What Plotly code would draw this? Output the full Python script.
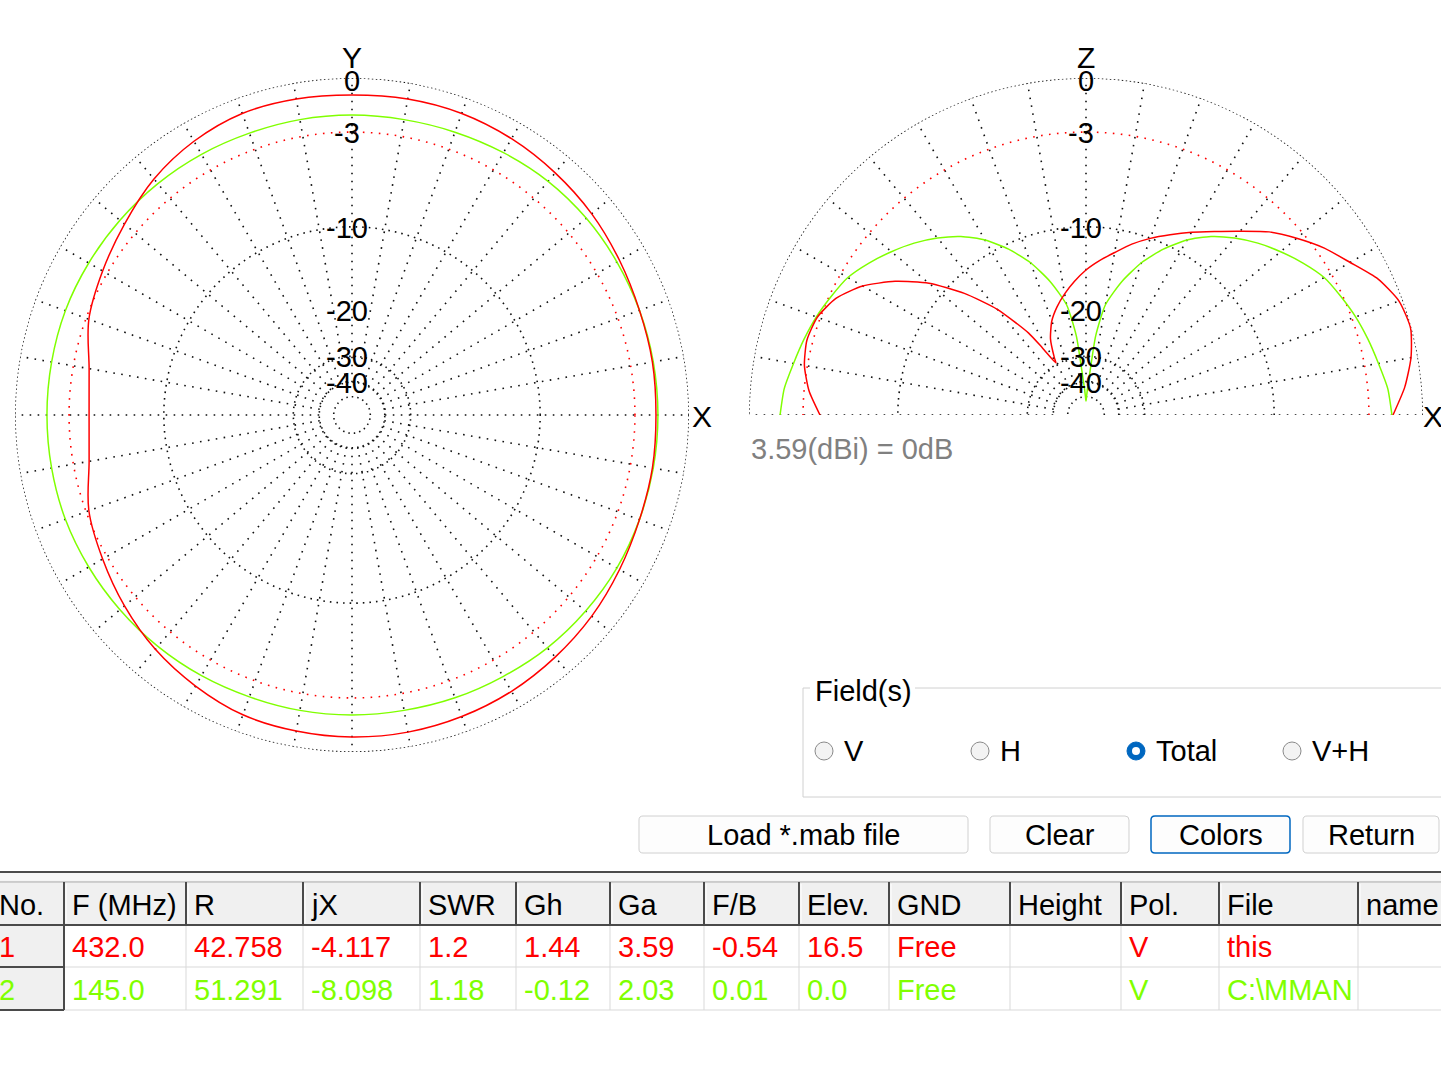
import plotly.graph_objects as go

W, H = 1441, 1065
RED = "#ff0000"
GREEN = "#80ff00"
FONT = "Liberation Sans, Arial, sans-serif"

# horizontal (XY) pattern, dB relative to 3.59 dBi, angle from +X counter-clockwise
az_angles = list(range(0, 360, 10))
az_432 = [-1.77, -1.71, -1.66, -1.49, -1.27, -1.10, -0.94, -0.84, -0.84, -0.89,
          -0.84, -0.84, -1.10, -1.54, -2.17, -2.70, -3.18, -4.00, -4.26, -4.00,
          -3.18, -2.70, -2.17, -1.66, -1.27, -0.94, -0.84, -0.78, -0.78, -0.84,
          -0.94, -1.10, -1.27, -1.49, -1.66, -1.71]
az_145 = [-1.66, -1.66, -1.66, -1.66, -1.66, -1.71, -1.83, -1.94, -2.00, -2.00,
          -2.00, -2.00, -1.94, -1.88, -1.83, -1.77, -1.71, -1.71, -1.71, -1.71,
          -1.71, -1.77, -1.83, -1.88, -1.94, -2.00, -2.00, -2.00, -2.00, -1.94,
          -1.88, -1.77, -1.71, -1.66, -1.66, -1.66]

# vertical (XZ) pattern, elevation angle from +X
el_angles_432 = [0, 5, 10, 15, 20, 25, 30, 35, 40, 45, 50, 55, 60, 65, 70, 75, 80, 85,
                 90, 95, 100, 105, 110, 115, 119, 120, 123, 125, 130, 135, 140, 145,
                 150, 155, 160, 165, 170, 175, 180]
el_432 = [-1.60, -0.89, -0.36, -0.05, -0.20, -0.78, -1.71, -2.52, -3.49, -4.52,
          -5.83, -7.01, -8.04, -9.05, -10.02, -11.06, -12.26, -13.33, -14.47, -15.83,
          -17.30, -18.91, -20.85, -23.84, -28.24, -29.6, -24.7, -20.85, -15.32, -11.54,
          -8.53, -6.33, -4.59, -3.43, -2.82, -2.64, -2.82, -3.30, -4.06]
el_angles_145 = [0, 5, 10, 15, 20, 25, 30, 35, 40, 45, 50, 55, 60, 65, 70, 75, 80, 83,
                 85, 87, 89, 90, 91, 93, 95, 97, 100, 105, 110, 115, 120, 125, 130,
                 135, 140, 145, 150, 155, 160, 165, 170, 175, 180]
el_145 = [-1.66, -1.83, -2.17, -2.46, -2.76, -3.12, -3.49, -4.13, -4.85, -5.61,
          -6.48, -7.48, -8.78, -10.48, -12.57, -15.32, -18.91, -24.7, -36.6, -44.6,
          -52.3, -54.6, -52.3, -44.6, -36.6, -24.7, -18.91, -15.32, -12.57, -10.48,
          -8.78, -7.48, -6.48, -5.61, -4.85, -4.13, -3.49, -3.12, -2.76, -2.46,
          -2.17, -1.83, -1.66]

scale_levels = [0, -3, -10, -20, -30, -40]
scale_labels = ["0", "-3", "-10", "-20", "-30", "-40"]

headers = ["No.", "F (MHz)", "R", "jX", "SWR", "Gh", "Ga", "F/B", "Elev.", "GND",
           "Height", "Pol.", "File", "name"]
row_432 = ["1", "432.0", "42.758", "-4.117", "1.2", "1.44", "3.59", "-0.54", "16.5",
           "Free", "", "V", "this", ""]
row_145 = ["2", "145.0", "51.291", "-8.098", "1.18", "-0.12", "2.03", "0.01", "0.0",
           "Free", "", "V", "C:\\MMAN", ""]

fields = ["V", "H", "Total", "V+H"]
selected_field = "Total"
buttons = ["Load *.mab file", "Clear", "Colors", "Return"]


def to_r(db):
    # MMANA log scale: radius = 0.89 ** (-dB/2)
    return 0.89 ** (-db / 2.0)


def px(x):
    return x / W


def py(y):
    return 1 - y / H


fig = go.Figure()
DOT = "#111"


def grid(subplot, a0, a1):
    full = list(range(a0, a1 + 1))
    # spokes every 10 deg from the -40 ring outwards
    rr, tt = [], []
    for a in range(a0, a1 + 1, 10):
        if a1 - a0 == 360 and a == a1:
            continue
        rr += [to_r(-40), 1, None]
        tt += [a, a, None]
    fig.add_trace(go.Scatterpolar(r=rr, theta=tt, mode="lines", subplot=subplot,
                                  line=dict(color=DOT, width=1.6, dash="1.6px,6.4px"),
                                  cliponaxis=False, hoverinfo="skip", showlegend=False))
    rings = [(0, DOT, "1.5px,2.5px"), (-3, RED, "1.6px,6.4px"), (-10, DOT, "1.6px,5px"),
             (-30, DOT, "1.5px,4px"), (-40, DOT, "1.5px,4px"), (-50, DOT, "1.5px,4px")]
    for lev, col, dash in rings:
        fig.add_trace(go.Scatterpolar(r=[to_r(lev)] * len(full), theta=full, mode="lines",
                                      subplot=subplot,
                                      line=dict(color=col, width=1.6, dash=dash),
                                      cliponaxis=False, hoverinfo="skip", showlegend=False))


grid("polar", 0, 360)
grid("polar2", 0, 180)

for vals, col in [(az_145, GREEN), (az_432, RED)]:
    fig.add_trace(go.Scatterpolar(r=[to_r(v) for v in vals] + [to_r(vals[0])],
                                  theta=az_angles + [360], mode="lines", subplot="polar",
                                  line=dict(color=col, width=1.5, shape="spline", smoothing=1),
                                  cliponaxis=False, hoverinfo="skip", showlegend=False))
for ang, vals, col in [(el_angles_145, el_145, GREEN), (el_angles_432, el_432, RED)]:
    fig.add_trace(go.Scatterpolar(r=[to_r(v) for v in vals], theta=ang, mode="lines",
                                  subplot="polar2",
                                  line=dict(color=col, width=1.5, shape="spline", smoothing=0.6),
                                  cliponaxis=False, hoverinfo="skip", showlegend=False))

polar_common = dict(bgcolor="rgba(0,0,0,0)",
                    radialaxis=dict(range=[0, 1], visible=False),
                    angularaxis=dict(visible=False, rotation=0, direction="counterclockwise"))
R = 337
CL = (352, 415)
CR = (1086, 415)

ann = []
shapes = []


def text(x, y, s, size=29, color="black", anchor="left", **kw):
    ann.append(dict(x=px(x), y=py(y), xref="paper", yref="paper", text=s, showarrow=False,
                    xanchor=anchor, yanchor="middle",
                    font=dict(family=FONT, size=size, color=color), **kw))


# scale labels and axis names
for cx, cy, top in [(CL[0], CL[1], "Y"), (CR[0], CR[1], "Z")]:
    text(cx, 58, top, size=30, anchor="center")
    for lev, lab in zip(scale_levels, scale_labels):
        y = cy - R * to_r(lev) + (3 if lev == 0 else 1)
        text(cx - (5 if lab.startswith("-") else 0), y, lab, anchor="center")
text(702, 417, "X", size=30, anchor="center")
text(1433, 417, "X", size=30, anchor="center")
text(749, 449, row_432[6] + "(dBi) = 0dB", size=29, color="#808080")

# Field(s) group box
gb = "#d0d0d0"
shapes += [
    dict(type="line", x0=px(803), x1=px(810), y0=py(688), y1=py(688), line=dict(color=gb, width=1)),
    dict(type="line", x0=px(915), x1=px(W), y0=py(688), y1=py(688), line=dict(color=gb, width=1)),
    dict(type="line", x0=px(803), x1=px(803), y0=py(688), y1=py(797), line=dict(color=gb, width=1)),
    dict(type="line", x0=px(803), x1=px(W), y0=py(797), y1=py(797), line=dict(color=gb, width=1)),
]
text(813, 691, "Field(s)")
radio_x = [824, 980, 1136, 1292]
for f, x in zip(fields, radio_x):
    if f == selected_field:
        shapes.append(dict(type="circle", x0=px(x - 9), x1=px(x + 9), y0=py(760), y1=py(742),
                           fillcolor="#0067c0", line=dict(color="#0067c0", width=1)))
        shapes.append(dict(type="circle", x0=px(x - 4), x1=px(x + 4), y0=py(755), y1=py(747),
                           fillcolor="white", line=dict(width=0)))
    else:
        shapes.append(dict(type="circle", x0=px(x - 9), x1=px(x + 9), y0=py(760), y1=py(742),
                           fillcolor="#f3f3f3", line=dict(color="#8a8a8a", width=1)))
    text(x + 18, 751, f)

# buttons
btn_x = [(639, 968), (990, 1129), (1151, 1290), (1303, 1439)]


def rrect(x0, y0, x1, y1, r=4):
    P = lambda x, y: f"{px(x):.5f},{py(y):.5f}"
    return (f"M{P(x0 + r, y0)} L{P(x1 - r, y0)} Q{P(x1, y0)} {P(x1, y0 + r)} "
            f"L{P(x1, y1 - r)} Q{P(x1, y1)} {P(x1 - r, y1)} L{P(x0 + r, y1)} "
            f"Q{P(x0, y1)} {P(x0, y1 - r)} L{P(x0, y0 + r)} Q{P(x0, y0)} {P(x0 + r, y0)} Z")


for b, (x0, x1) in zip(buttons, btn_x):
    focus = b == "Colors"
    shapes.append(dict(type="path", path=rrect(x0, 816, x1, 853), xref="paper", yref="paper",
                       fillcolor="#fdfdfd",
                       line=dict(color="#0067c0" if focus else "#d0d0d0", width=1.5 if focus else 1)))
    text((x0 + x1) / 2, 835, b, anchor="center")

# table
edges = [0, 64, 186, 303, 420, 516, 610, 704, 799, 889, 1010, 1121, 1219, 1358, W]
y_top, y_head, y_r1, y_r2 = 882, 925, 967, 1010
dark = "#4a4a4a"
light = "#d9d9d9"
shapes += [
    dict(type="rect", x0=0, x1=1, y0=py(882), y1=py(873), fillcolor="#f5f5f5", line=dict(width=0)),
    dict(type="line", x0=0, x1=1, y0=py(872), y1=py(872), line=dict(color=dark, width=2)),
    dict(type="line", x0=0, x1=1, y0=py(y_top), y1=py(y_top), line=dict(color="#a0a0a0", width=1)),
    dict(type="rect", x0=0, x1=1, y0=py(y_head), y1=py(y_top + 1), fillcolor="#f0f0f0", line=dict(width=0)),
    dict(type="rect", x0=0, x1=px(64), y0=py(y_r2), y1=py(y_head), fillcolor="#f0f0f0", line=dict(width=0)),
]
for yy in [y_r1, y_r2]:
    shapes.append(dict(type="line", x0=px(64), x1=1, y0=py(yy), y1=py(yy), line=dict(color=light, width=1)))
    shapes.append(dict(type="line", x0=0, x1=px(64), y0=py(yy), y1=py(yy), line=dict(color=dark, width=2)))
for e in edges[2:-1]:
    shapes.append(dict(type="line", x0=px(e), x1=px(e), y0=py(y_head), y1=py(y_r2), line=dict(color=light, width=1)))
for e in edges[1:-1]:
    shapes.append(dict(type="line", x0=px(e), x1=px(e), y0=py(y_top), y1=py(y_head), line=dict(color=dark, width=2)))
    shapes.append(dict(type="line", x0=px(e + 2), x1=px(e + 2), y0=py(y_top + 2), y1=py(y_head - 2), line=dict(color="white", width=1)))
shapes.append(dict(type="line", x0=px(64), x1=px(64), y0=py(y_head), y1=py(y_r2), line=dict(color=dark, width=2)))
shapes.append(dict(type="line", x0=0, x1=1, y0=py(y_head), y1=py(y_head), line=dict(color=dark, width=2)))

for row, yc, col in [(headers, 905, "black"), (row_432, 947, RED), (row_145, 990, GREEN)]:
    for i, s in enumerate(row):
        if s:
            text(-3 if i == 0 else edges[i] + 6, yc, s, color=col)

fig.update_layout(
    width=W, height=H, margin=dict(l=0, r=0, t=0, b=0),
    paper_bgcolor="white", plot_bgcolor="white", showlegend=False,
    polar=dict(domain=dict(x=[px(CL[0] - R), px(CL[0] + R)], y=[py(CL[1] + R), py(CL[1] - R)]),
               **polar_common),
    polar2=dict(domain=dict(x=[px(CR[0] - R), px(CR[0] + R)], y=[py(CR[1]), py(CR[1] - R)]),
                sector=[0, 180], **polar_common),
    annotations=ann, shapes=shapes,
)

fig.write_html("out.html", config={"displayModeBar": False},
               post_script="document.body.style.margin='0';")
